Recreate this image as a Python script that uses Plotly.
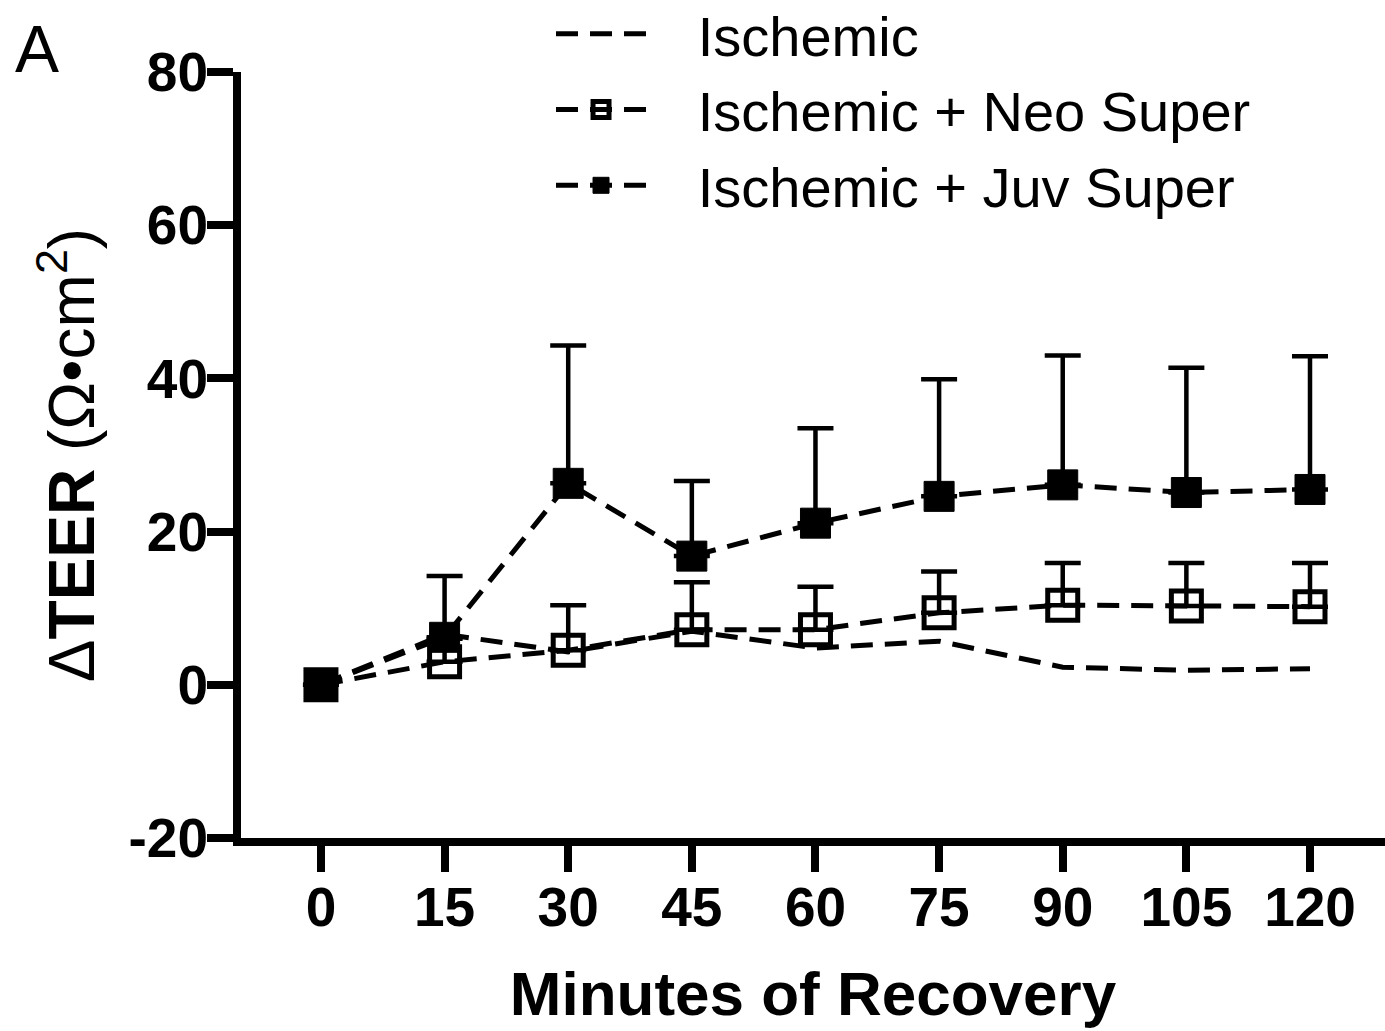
import plotly.graph_objects as go

# Recovery time points (minutes)
minutes = [0, 15, 30, 45, 60, 75, 90, 105, 120]

# Mean change in TEER (ohm*cm^2) for each group
ischemic = [0, 6.6, 4.3, 7.0, 4.8, 5.7, 2.3, 1.9, 2.1]
neo_super = [0, 3.0, 4.5, 7.2, 7.2, 9.4, 10.4, 10.3, 10.2]
juv_super = [0, 6.2, 26.3, 16.8, 21.1, 24.6, 26.1, 25.1, 25.5]

# Upper error (SEM) for the treated groups
neo_err = [0, 3.0, 5.9, 6.2, 5.6, 5.4, 5.5, 5.6, 5.7]
juv_err = [0, 8.0, 18.0, 9.8, 12.4, 15.3, 16.9, 16.3, 17.4]

series_names = ["Ischemic", "Ischemic + Neo Super", "Ischemic + Juv Super"]

x_ticks = [0, 15, 30, 45, 60, 75, 90, 105, 120]
y_ticks = [-20, 0, 20, 40, 60, 80]

FONT = "Liberation Sans, Arial, sans-serif"
DASH = "22px,12px"
PAD = "&nbsp;" * 3  # gap between legend key and label


def legend_label(name):
    return PAD + name


fig = go.Figure()

fig.add_trace(go.Scatter(
    x=minutes, y=ischemic, name=legend_label(series_names[0]), mode="lines",
    line=dict(color="black", width=5, dash=DASH),
))

fig.add_trace(go.Scatter(
    x=minutes, y=neo_super, name=legend_label(series_names[1]), mode="lines+markers",
    line=dict(color="black", width=5, dash=DASH),
    marker=dict(symbol="square-open", size=30, color="black",
                line=dict(color="black", width=5)),
    error_y=dict(type="data", symmetric=False, array=neo_err,
                 arrayminus=[0] * len(neo_err), color="black",
                 thickness=4.5, width=18),
))

fig.add_trace(go.Scatter(
    x=minutes, y=juv_super, name=legend_label(series_names[2]), mode="lines+markers",
    line=dict(color="black", width=5, dash=DASH),
    marker=dict(symbol="square", size=30, color="black",
                line=dict(color="black", width=1)),
    error_y=dict(type="data", symmetric=False, array=juv_err,
                 arrayminus=[0] * len(juv_err), color="black",
                 thickness=4.5, width=18),
))

fig.update_layout(
    width=1385, height=1031,
    margin=dict(l=241, r=0, t=72, b=193, autoexpand=False),
    paper_bgcolor="white", plot_bgcolor="white",
    font=dict(family=FONT, color="black"),
    showlegend=True,
    legend=dict(
        x=0.271, y=1.106, xanchor="left", yanchor="top",
        font=dict(family=FONT, size=56, color="black"),
        bgcolor="rgba(0,0,0,0)", itemwidth=90, tracegroupgap=0,
    ),
    annotations=[dict(
        text="A", xref="paper", yref="paper", x=-0.178, y=1.03,
        xanchor="center", yanchor="middle", showarrow=False,
        font=dict(family=FONT, size=66, color="black"),
    )],
)

fig.update_xaxes(
    range=[-9.7, 129.1], tickvals=x_ticks, ticktext=[str(v) for v in x_ticks],
    showgrid=False, zeroline=False,
    showline=True, linecolor="black", linewidth=8,
    ticks="outside", ticklen=26, tickwidth=8, tickcolor="black",
    ticklabelstandoff=-12,
    tickfont=dict(family=FONT, size=55, weight="bold"),
    title=dict(text="Minutes of Recovery", standoff=38,
               font=dict(family=FONT, size=62, weight="bold")),
)

fig.update_yaxes(
    range=[-20, 80], tickvals=y_ticks, ticktext=[str(v) for v in y_ticks],
    showgrid=False, zeroline=False,
    showline=True, linecolor="black", linewidth=8,
    ticks="outside", ticklen=26, tickwidth=8, tickcolor="black",
    ticklabelstandoff=-12,
    tickfont=dict(family=FONT, size=55, weight="bold"),
    title=dict(text="Δ<b>TEER</b> (Ω•cm<sup>2</sup>)", standoff=16,
               font=dict(family=FONT, size=64)),
)

fig.write_html("out.html")
